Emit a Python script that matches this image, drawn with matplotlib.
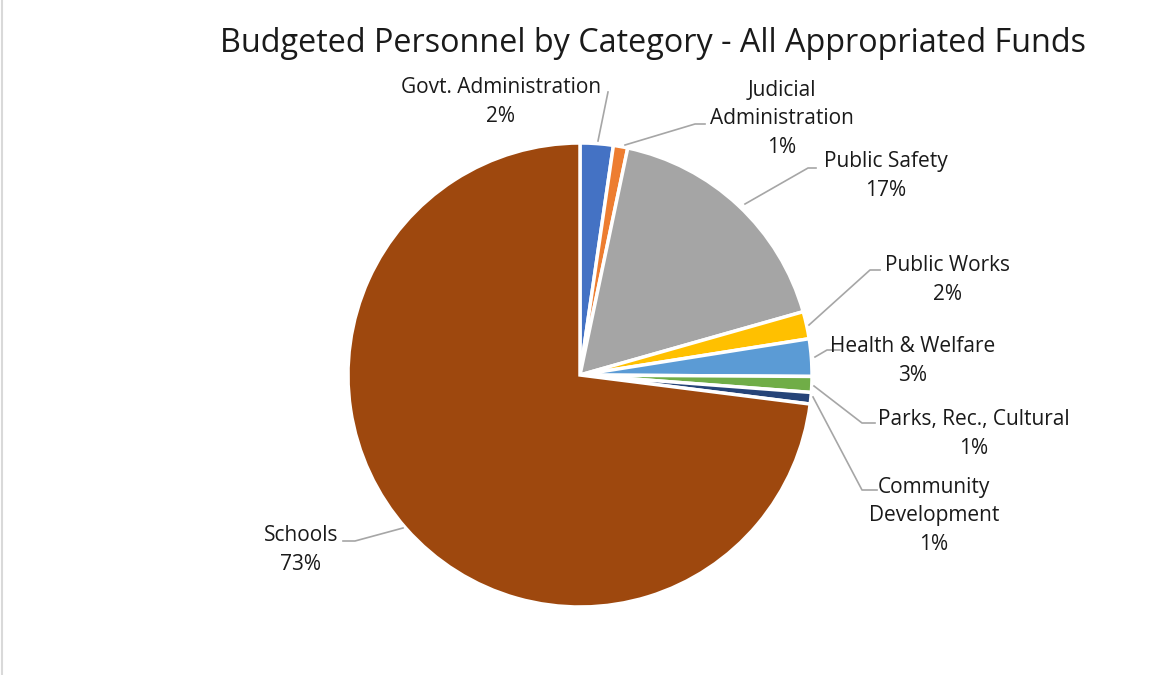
import matplotlib
matplotlib.use("Agg")
import matplotlib.pyplot as plt

# data
categories = ["Govt. Administration", "Judicial\nAdministration", "Public Safety",
              "Public Works", "Health & Welfare", "Parks, Rec., Cultural",
              "Community\nDevelopment", "Schools"]
shares = [2.3, 1.0, 17.3, 1.9, 2.6, 1.1, 0.8, 73.0]
colors = ["#4472C4", "#ED7D31", "#A5A5A5", "#FFC000", "#5B9BD5", "#70AD47",
          "#264478", "#9E480E"]

# label text position (pixels) and leader line points
label_pos = [(501, 102), (782, 119), (886, 176), (948, 280), (913, 361),
             (974, 434), (934, 516), (301, 550)]
leaders = [
    [(598, 141), (608, 92)],
    [(625, 145), (695, 124), (705, 124)],
    [(745, 204), (808, 168), (816, 168)],
    [(809, 325), (870, 270), (880, 270)],
    [(815, 357), (827, 350), (840, 350)],
    [(814, 386), (862, 423), (875, 423)],
    [(813, 397), (862, 490), (877, 490)],
    [(403, 528), (355, 541), (343, 541)],
]

W, H = 1151, 675
fig = plt.figure(figsize=(W / 100, H / 100), dpi=100)
ax = fig.add_axes([0, 0, 1, 1])
ax.set_xlim(0, W)
ax.set_ylim(0, H)
ax.set_aspect("equal")
ax.axis("off")

ax.pie(shares, colors=colors, startangle=90, counterclock=False,
       center=(580, H - 375), radius=232,
       wedgeprops=dict(edgecolor="white", linewidth=2.5))
ax.set_xlim(0, W)
ax.set_ylim(0, H)

font = "Open Sans"
for name, v, (x, y), pts in zip(categories, shares, label_pos, leaders):
    ax.text(x, H - y, f"{name}\n{round(v)}%", ha="center", va="center",
            fontsize=15, family=font, color="#1a1a1a", linespacing=1.45)
    ax.plot([p[0] for p in pts], [H - p[1] for p in pts], color="#A6A6A6", lw=1.2)

ax.text(653, H - 43, "Budgeted Personnel by Category - All Appropriated Funds",
        ha="center", va="center", fontsize=23.3, family=font, color="#1a1a1a")

# left edge of chart frame
ax.plot([2.5, 2.5], [0, H], color="#D9D9D9", lw=1.5)

fig.savefig("out.png", dpi=100, facecolor="white")
